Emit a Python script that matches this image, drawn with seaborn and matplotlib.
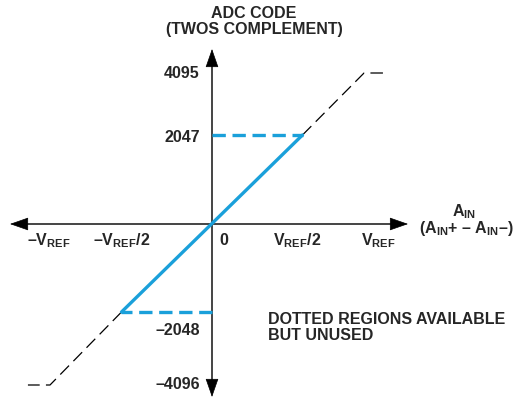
import numpy as np
import matplotlib
matplotlib.use("Agg")
import matplotlib.pyplot as plt
import seaborn as sns

# transfer function data (input in units of VREF, output in ADC codes)
blue_x = [-0.5, 0.5]
blue_code = [-2048, 2047]
upper_x = [0.5, 0.84, 0.97]
upper_code = [2047, 4095, 4095]
lower_x = [-0.5, -0.895, -1.017]
lower_code = [-2048, -4096, -4096]

x_ticks = [-0.90, -0.50, 0.064, 0.47, 0.92]
x_labels = [r'–V$_{REF}$', r'–V$_{REF}$/2', '0', r'V$_{REF}$/2', r'V$_{REF}$']
y_ticks = [4095, 2047, -2048, -4096]
y_labels = ['4095', '2047', '–2048', '–4096']

BLUE = '#1AA0DA'
AXIS = '#444444'

sns.set_theme(style='white')
plt.rcParams['font.family'] = ['Liberation Sans', 'DejaVu Sans']
plt.rcParams['font.weight'] = 'bold'
plt.rcParams['mathtext.fontset'] = 'custom'
plt.rcParams['mathtext.rm'] = 'Liberation Sans:bold'
plt.rcParams['mathtext.bf'] = 'Liberation Sans:bold'
plt.rcParams['mathtext.it'] = 'Liberation Sans:bold'
plt.rcParams['mathtext.default'] = 'rm'

# schematic y scale: code range compressed beyond +/- full half-scale
code_anchor = np.array([-8192, -4096, -2048, 0, 2047, 4095, 8191], dtype=float)
pos_anchor = np.array([-307, -161, -88, 0, 89, 151, 275], dtype=float)


def fwd(c):
    return np.interp(c, code_anchor, pos_anchor)


def inv(p):
    return np.interp(p, pos_anchor, code_anchor)


fig = plt.figure(figsize=(5.30, 4.02), dpi=100)
ax = fig.add_axes([0, 0, 1, 1])
ax.set_yscale('function', functions=(fwd, inv))
ax.set_xlim(-212 / 181, 318 / 181)
ax.set_ylim(inv(-177), inv(225))
ax.axis('off')

# axes with arrow heads
x_lo, x_hi = -1.116, 1.083
y_lo, y_hi = inv(-173), inv(175)
ax.plot([x_lo + 0.05, x_hi - 0.05], [0, 0], color=AXIS, lw=1.4, zorder=1)
ax.plot([0, 0], [inv(-160), inv(162)], color=AXIS, lw=1.4, zorder=1)
head = dict(arrowstyle='-|>,head_length=1.0,head_width=0.35', color='black',
            lw=0.5, shrinkA=0, shrinkB=0)
ax.annotate('', xy=(x_hi, 0), xytext=(x_hi - 0.08, 0), arrowprops=head)
ax.annotate('', xy=(x_lo, 0), xytext=(x_lo + 0.08, 0), arrowprops=head)
ax.annotate('', xy=(0, y_hi), xytext=(0, inv(160)), arrowprops=head)
ax.annotate('', xy=(0, y_lo), xytext=(0, inv(-158)), arrowprops=head)

# transfer curve
sns.lineplot(x=blue_x, y=blue_code, ax=ax, color=BLUE, lw=2.4, sort=False, zorder=3)
sns.lineplot(x=upper_x, y=upper_code, ax=ax, color='black', lw=0.9, sort=False,
             linestyle=(0, (10, 5)), zorder=2)
sns.lineplot(x=lower_x, y=lower_code, ax=ax, color='black', lw=0.9, sort=False,
             linestyle=(0, (10, 5)), zorder=2)
ax.plot([0, blue_x[1]], [blue_code[1], blue_code[1]], color=BLUE, lw=2.4,
        linestyle=(0, (4, 2)), zorder=2)
ax.plot([0, blue_x[0]], [blue_code[0], blue_code[0]], color=BLUE, lw=2.4,
        linestyle=(0, (4, 2)), zorder=2)

fs = 11.5
for xv, lab in zip(x_ticks, x_labels):
    ax.annotate(lab, xy=(xv, 0), xytext=(0, -20), textcoords='offset pixels',
                ha='center', va='baseline', fontsize=fs, fontweight='bold')

y_off = {4095: 0, 2047: -2, -2048: -18, -4096: 1}
for yv, lab in zip(y_ticks, y_labels):
    ax.annotate(lab, xy=(0, yv), xytext=(-12, y_off[yv]), textcoords='offset pixels',
                ha='right', va='center', fontsize=fs, fontweight='bold')

fig.text(254 / 530, 1 - 6 / 402, 'ADC CODE\n(TWOS COMPLEMENT)', ha='center', va='top',
         fontsize=fs, fontweight='bold', linespacing=1.05)
fig.text(268 / 530, 1 - 312 / 402, 'DOTTED REGIONS AVAILABLE\nBUT UNUSED', ha='left',
         va='top', fontsize=fs, fontweight='bold', linespacing=1.05)
fig.text(464 / 530, 1 - 216 / 402, r'A$_{IN}$', ha='center', va='baseline',
         fontsize=fs, fontweight='bold')
fig.text(466 / 530, 1 - 233 / 402, r'(A$_{IN}$+ – A$_{IN}$–)', ha='center',
         va='baseline', fontsize=fs, fontweight='bold')

fig.savefig('out.png', dpi=100)
